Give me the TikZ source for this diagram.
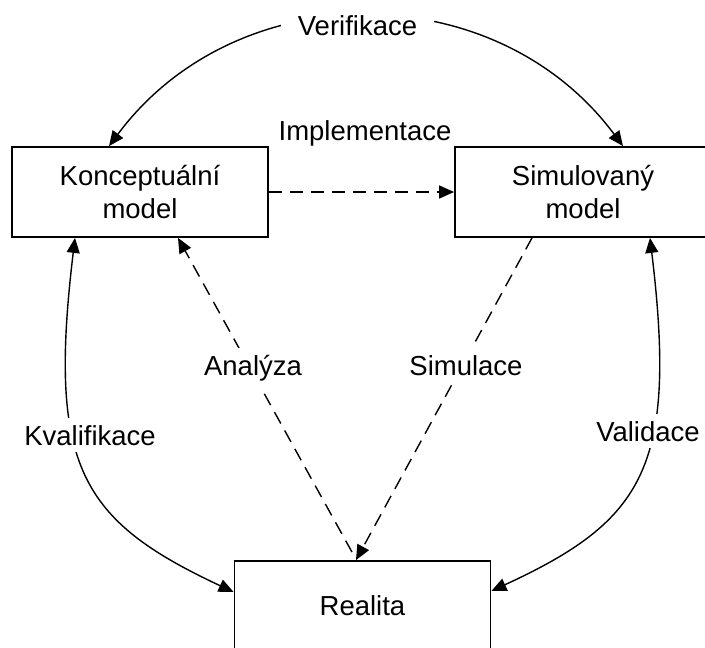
\documentclass[tikz,border=0pt]{standalone}
\usepackage{fontspec}
\setmainfont{Liberation Sans}
\usetikzlibrary{arrows.meta}
\begin{document}
\begin{tikzpicture}[x=1pt,y=-1pt,
  font=\fontsize{27.5}{33}\selectfont,
  box/.style={draw, line width=1.8pt, minimum width=256pt, minimum height=90pt, align=center, inner sep=0pt},
  lab/.style={fill=white, inner sep=7pt},
  tip/.style={Triangle[length=15pt,width=13pt]},
  conn/.style={line width=1.4pt, -{Triangle[length=15pt,width=13pt]}},
  dconn/.style={conn, dash pattern=on 13pt off 8pt},
  both/.style={line width=1.4pt, {Triangle[length=15pt,width=13pt]}-{Triangle[length=15pt,width=13pt]}}]
\useasboundingbox (0,0) rectangle (705,648);
\clip (0,0) rectangle (705,648);
\fill[white] (0,0) rectangle (705,648);
% boxes
\node[box] (K) at (140,192) {Konceptuální\\model};
\node[box] (S) at (583,192) {Simulovaný\\model};
\node[box] (R) at (362.5,606) {Realita};
% dashed connectors
\draw[dconn] (K.east) -- (S.west);
\draw[dconn] ([xshift=-10.5pt,yshift=8pt]R.north) -- ([xshift=38pt]K.south);
\draw[dconn] ([xshift=-51pt]S.south) -- ([xshift=-6.5pt]R.north);
% curved connectors
\draw[both] ([xshift=-31pt]K.north) .. controls (236.8,-25.6) and (495.2,-25.6) .. ([xshift=40pt]S.north);
\draw[both] ([xshift=-65pt]K.south) .. controls (47.4,467) and (81,520.6) .. ([yshift=14pt]R.west);
\draw[both] ([xshift=67pt]S.south) .. controls (677.6,467) and (644,520.6) .. ([yshift=15pt]R.east);
% labels
\node[lab, anchor=base, inner xsep=17pt] (verif) at (357.5,35) {Verifikace};
\node[anchor=base] (impl) at (365,140) {Implementace};
\node[lab, anchor=base] (anal) at (253,375) {Analýza};
\node[lab, anchor=base] (simul) at (466,375) {Simulace};
\node[lab, anchor=base] (kval) at (90,445) {Kvalifikace};
\node[lab, anchor=base] (valid) at (648,441) {Validace};
\end{tikzpicture}
\end{document}
